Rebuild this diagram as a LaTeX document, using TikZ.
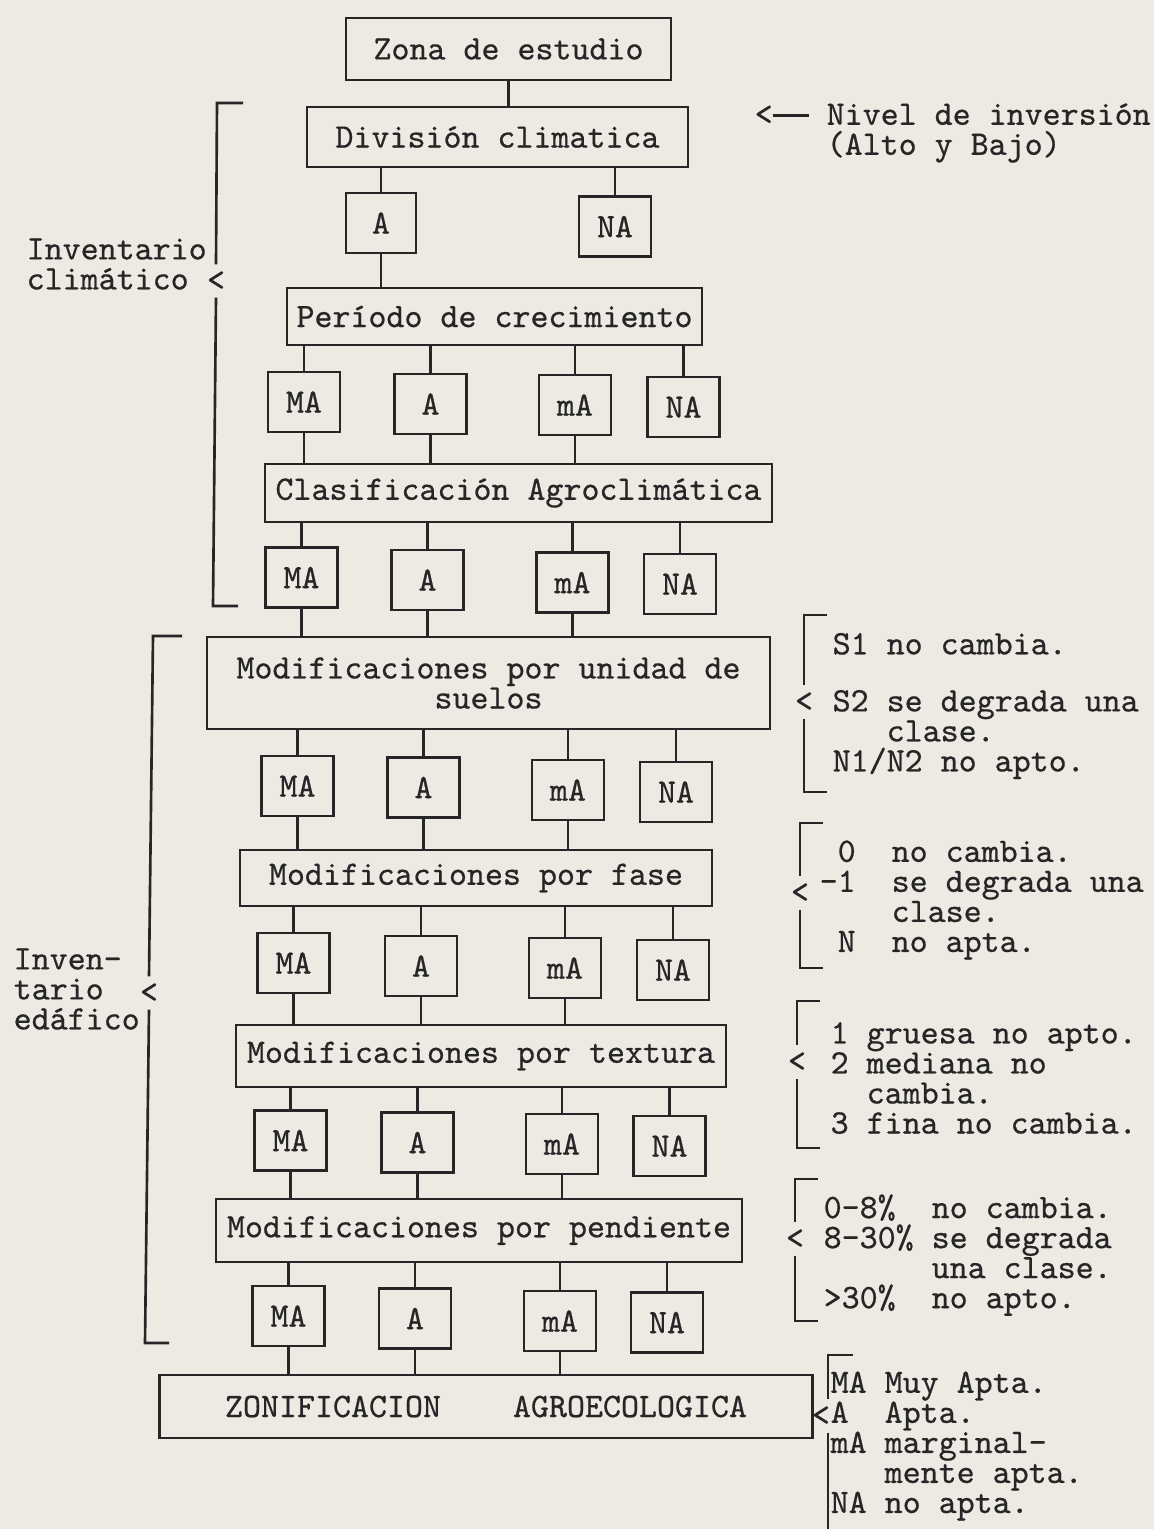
\documentclass[tikz,border=0pt]{standalone}
\usepackage{fontspec}
\setmonofont{lmmono10-regular.otf}[FakeBold=0.6]
\definecolor{paper}{HTML}{EDEAE4}
\definecolor{ink}{HTML}{262626}
% blank columns of the typewriter grid
\newcommand{\cskip}[1]{\hspace*{#1\fontcharwd\font`\M}}

\begin{document}
\begin{tikzpicture}[
  x=0.01cm, y=-0.01cm,
  every node/.style={font=\ttfamily\fontsize{9.75}{8.54}\selectfont, text=ink},
  bigbox/.style={draw=ink, line width=0.75pt, inner sep=0pt, align=center,
                 minimum height=0.6cm},
  smallbox/.style={draw=ink, line width=0.75pt, inner sep=0pt,
                   minimum width=0.72cm, minimum height=0.6cm},
  note/.style={anchor=west, align=left, inner sep=0pt},
  ltmark/.style={inner sep=0pt, minimum height=0.32cm},
  link/.style={draw=ink, line width=0.75pt},
  brk/.style={draw=ink, line width=0.75pt},
]
\fill[paper] (0,0) rectangle (1154,1529);
\useasboundingbox (0,0) rectangle (1154,1529);

% Main chain
\node[bigbox, minimum width=3.25cm, minimum height=0.62cm] (zona) at (508.5,49) {Zona de estudio};
\node[bigbox, minimum width=3.81cm] (div) at (497.5,137) {División climatica};
\node[smallbox, minimum width=0.70cm] (a0) at (381,223) {A};
\node[smallbox] (na0) at (615,226.5) {NA};
\node[bigbox, minimum width=4.15cm, minimum height=0.57cm] (per) at (494.5,316.5) {Período de crecimiento};

\node[smallbox] (r1ma) at (304,402) {MA};
\node[smallbox] (r1a)  at (430.5,404) {A};
\node[smallbox] (r1ml) at (575,405) {mA};
\node[smallbox] (r1na) at (683.5,407) {NA};

\node[bigbox, minimum width=5.07cm, minimum height=0.58cm] (cla) at (518.5,493) {Clasificación Agroclimática};

\node[smallbox] (r2ma) at (301.5,577.5) {MA};
\node[smallbox] (r2a)  at (427.5,580) {A};
\node[smallbox] (r2ml) at (572.5,582.5) {mA};
\node[smallbox] (r2na) at (680,584) {NA};

\node[bigbox, minimum width=5.63cm, minimum height=0.92cm] (sue) at (488.5,683) {Modificaciones por unidad de\\suelos};

\node[smallbox] (r3ma) at (297.5,786) {MA};
\node[smallbox] (r3a)  at (423.5,787.5) {A};
\node[smallbox] (r3ml) at (568,790) {mA};
\node[smallbox] (r3na) at (676,792) {NA};

\node[bigbox, minimum width=4.72cm, minimum height=0.56cm] (fas) at (476,878) {Modificaciones por fase};

\node[smallbox] (r4ma) at (293.5,963) {MA};
\node[smallbox] (r4a)  at (421,966) {A};
\node[smallbox] (r4ml) at (565,968) {mA};
\node[smallbox] (r4na) at (673,970) {NA};

\node[bigbox, minimum width=4.90cm, minimum height=0.62cm] (tex) at (481,1056) {Modificaciones por textura};

\node[smallbox] (r5ma) at (290.5,1140.5) {MA};
\node[smallbox] (r5a)  at (417.5,1142.5) {A};
\node[smallbox] (r5ml) at (562,1144) {mA};
\node[smallbox] (r5na) at (669.5,1146) {NA};

\node[bigbox, minimum width=5.26cm, minimum height=0.63cm] (pen) at (479,1230.5) {Modificaciones por pendiente};

\node[smallbox] (r6ma) at (288.5,1316) {MA};
\node[smallbox] (r6a)  at (415,1318.5) {A};
\node[smallbox] (r6ml) at (560,1321) {mA};
\node[smallbox] (r6na) at (667,1322.5) {NA};

\node[bigbox, minimum width=6.52cm, minimum height=0.63cm] (zon) at (486,1406.5) {ZONIFICACION~~~~AGROECOLOGICA};

% Connectors
\draw[link] (zona.south) -- (zona.south |- div.north);
\foreach \n in {a0,na0}
  \draw[link] (\n.north) -- (\n.north |- div.south);
\draw[link] (a0.south) -- (a0.south |- per.north);
\foreach \r/\src/\dst in {1/per/cla, 2/cla/sue, 3/sue/fas, 4/fas/tex, 5/tex/pen, 6/pen/zon} {
  \foreach \n in {ma,a,ml,na}
    \draw[link] (r\r\n.north) -- (r\r\n.north |- \src.south);
  \foreach \n in {ma,a,ml}
    \draw[link] (r\r\n.south) -- (r\r\n.south |- \dst.north);
}

% Side notes
\node[note] (nivel) at (754,133) {<\rule[0.24em]{1.05em}{0.6pt}~Nivel de inversión\\\cskip{4}(Alto y Bajo)};
\node[note] (invc) at (26,264) {Inventario\\climático};
\node[note] (inve) at (13,989) {Inven-\\tario\\edáfico};
\node[note] (g1) at (832,706) {S1 no cambia.\\[0.27cm]S2 se degrada una\\\cskip{3}clase.\\N1/N2 no apto.};
\node[note] (g2) at (819,900) {\cskip{1}0~~no cambia.\\-1~~se degrada una\\\cskip{4}clase.\\\cskip{1}N~~no apta.};
\node[note] (g3) at (830,1078) {1 gruesa no apto.\\2 mediana no\\\cskip{2}cambia.\\3 fina no cambia.};
\node[note] (g4) at (823,1255) {0-8\%~~no cambia.\\8-30\%~se degrada\\\cskip{6}una clase.\\>30\%~~no apto.};
\node[note] (g5) at (830,1446) {MA Muy Apta.\\A~~Apta.\\mA marginal-\\\cskip{3}mente apta.\\NA no apta.};

% Bracket marks
\node[ltmark] (lt1) at (216,281) {<};
\node[ltmark] (lt2) at (149,993) {<};
\node[ltmark] (rt1) at (804,702) {<};
\node[ltmark] (rt2) at (800,893) {<};
\node[ltmark] (rt3) at (797,1062) {<};
\node[ltmark] (rt4) at (795,1239) {<};
\node[ltmark] (rt5) at (821,1416) {<};

% Brackets
\draw[brk] (243,103) -- (217,103) -- (lt1.north);
\draw[brk] (lt1.south) -- (213,606) -- (238,606);
\draw[brk] (182,636) -- (153,636) -- (lt2.north);
\draw[brk] (lt2.south) -- (145,1343) -- (169,1343);
\foreach \m/\x/\ya/\yb in {rt1/804/615/792, rt2/800/823/968, rt3/797/1001/1148, rt4/795/1179/1321}
  \draw[brk] (\x+23,\ya) -- (\x,\ya) -- (\m.north) (\m.south) -- (\x,\yb) -- (\x+23,\yb);
\coordinate (r5end) at (828,1529);
\draw[brk] (853,1355) -- (828,1355) -- (r5end |- rt5.north);
\draw[brk] (r5end |- rt5.south) -- (r5end);
\end{tikzpicture}
\end{document}
